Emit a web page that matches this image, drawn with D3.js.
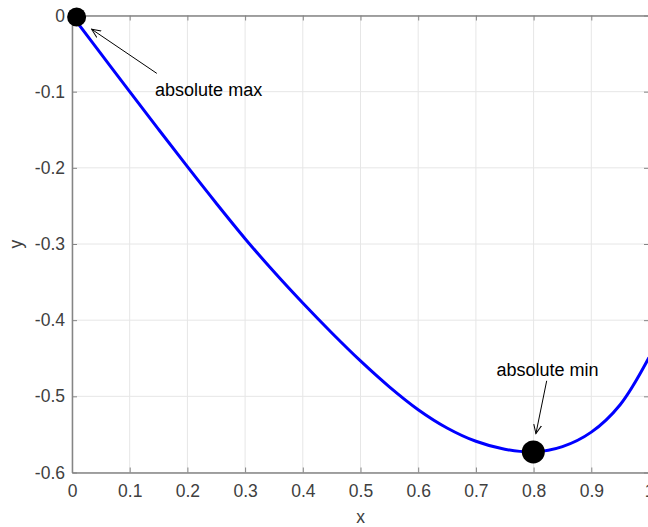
<!DOCTYPE html>
<html>
<head>
<meta charset="utf-8">
<script src="https://cdn.jsdelivr.net/npm/d3@7"></script>
<style>
  body { margin: 0; background: #fff; }
  svg { display: block; font-family: "Liberation Sans", Arial, sans-serif; }
</style>
</head>
<body>
<div id="chart"></div>
<script>
// values
var xs = [0, 0.05, 0.1, 0.15, 0.2, 0.25, 0.3, 0.35, 0.4, 0.45, 0.5, 0.55, 0.6, 0.65, 0.7, 0.75, 0.8, 0.85, 0.9, 0.95, 1.0]
var ys = [0, -0.05, -0.1, -0.1495, -0.1985, -0.2465, -0.293, -0.3365, -0.3775, -0.4165, -0.4535, -0.4875, -0.5175, -0.5415, -0.559, -0.5695, -0.573, -0.566, -0.547, -0.511, -0.449]
var xTicks = [0, 0.1, 0.2, 0.3, 0.4, 0.5, 0.6, 0.7, 0.8, 0.9, 1]
var yTicks = [0, -0.1, -0.2, -0.3, -0.4, -0.5, -0.6]
var extremaPts = [[0.008, -0.002, 9.5], [0.7995, -0.573, 11.5]]
var noteLabels = ['absolute max', 'absolute min']
var noteText = [[0.144, -0.098], [0.824, -0.465]]
var noteArrow = [[[0.147, -0.076], [0.034, -0.018]], [[0.8227, -0.4796], [0.804, -0.549]]]

var width = 648, height = 527
var margin = { top: 15.5, right: -1, bottom: 54.5, left: 72 }

var svg = d3.select('#chart').append('svg')
  .attr('width', width)
  .attr('height', height)

var x = d3.scaleLinear().domain([0, 1]).range([margin.left, width - margin.right])
var y = d3.scaleLinear().domain([-0.6, 0]).range([height - margin.bottom, margin.top])

var axisColor = '#858585'
var textColor = '#404040'

// grid
svg.append('g').selectAll('line.vg')
  .data(xTicks).enter().append('line')
  .attr('x1', d => x(d)).attr('x2', d => x(d))
  .attr('y1', y(0)).attr('y2', y(-0.6))
  .attr('stroke', '#e6e6e6').attr('stroke-width', 1)
svg.append('g').selectAll('line.hg')
  .data(yTicks).enter().append('line')
  .attr('x1', x(0)).attr('x2', x(1))
  .attr('y1', d => y(d)).attr('y2', d => y(d))
  .attr('stroke', '#e6e6e6').attr('stroke-width', 1)

// axes (box with ticks pointing in), plain hyphen for negatives like matlab
var fmt = d => d === 0 ? '0' : (d === 1 ? '1' : d.toFixed(1))
function styleAxis(g) {
  g.select('.domain').attr('stroke', axisColor).attr('stroke-width', 1.5)
  g.selectAll('.tick line').attr('stroke', axisColor).attr('stroke-width', 1)
  g.selectAll('.tick text').attr('fill', textColor).style('font-size', '17.5px')
}
svg.append('g')
  .attr('transform', 'translate(0,' + y(-0.6) + ')')
  .call(d3.axisBottom(x).tickValues(xTicks).tickFormat(fmt).tickSizeInner(-5).tickSizeOuter(0).tickPadding(12))
  .call(styleAxis)
svg.append('g')
  .attr('transform', 'translate(0,' + y(0) + ')')
  .call(d3.axisTop(x).tickValues(xTicks).tickFormat('').tickSizeInner(-5).tickSizeOuter(0))
  .call(styleAxis)
svg.append('g')
  .attr('transform', 'translate(' + x(0) + ',0)')
  .call(d3.axisLeft(y).tickValues(yTicks).tickFormat(fmt).tickSizeInner(-5).tickSizeOuter(0).tickPadding(7))
  .call(styleAxis)
svg.append('g')
  .attr('transform', 'translate(' + x(1) + ',0)')
  .call(d3.axisRight(y).tickValues(yTicks).tickFormat('').tickSizeInner(-5).tickSizeOuter(0))
  .call(styleAxis)

// axis labels
svg.append('text')
  .attr('x', x(0.5)).attr('y', height - 4)
  .attr('text-anchor', 'middle').attr('fill', textColor)
  .style('font-size', '17.5px').text('x')
svg.append('text')
  .attr('transform', 'translate(22,' + y(-0.3) + ') rotate(-90)')
  .attr('text-anchor', 'middle').attr('fill', textColor)
  .style('font-size', '17.5px').text('y')

// curve
var pts = xs.map((d, i) => [d, ys[i]])
svg.append('path')
  .datum(pts)
  .attr('fill', 'none')
  .attr('stroke', '#0000ff')
  .attr('stroke-width', 3)
  .attr('d', d3.line().x(d => x(d[0])).y(d => y(d[1])).curve(d3.curveCatmullRom))

// extrema markers
svg.append('g').selectAll('circle')
  .data(extremaPts).enter().append('circle')
  .attr('cx', d => x(d[0])).attr('cy', d => y(d[1])).attr('r', d => d[2])
  .attr('fill', '#000')

// annotations
svg.append('defs').append('marker')
  .attr('id', 'head')
  .attr('viewBox', '0 0 10 10')
  .attr('refX', 9).attr('refY', 5)
  .attr('markerWidth', 10).attr('markerHeight', 10)
  .attr('markerUnits', 'userSpaceOnUse')
  .attr('orient', 'auto')
  .append('path')
  .attr('d', 'M0,1 L9,5 L0,9')
  .attr('fill', 'none').attr('stroke', '#000').attr('stroke-width', 1)

svg.append('g').selectAll('line')
  .data(noteArrow).enter().append('line')
  .attr('x1', d => x(d[0][0])).attr('y1', d => y(d[0][1]))
  .attr('x2', d => x(d[1][0])).attr('y2', d => y(d[1][1]))
  .attr('stroke', '#000').attr('stroke-width', 1)
  .attr('marker-end', 'url(#head)')

svg.append('g').selectAll('text')
  .data(noteLabels).enter().append('text')
  .attr('x', (d, i) => x(noteText[i][0]))
  .attr('y', (d, i) => y(noteText[i][1]))
  .attr('dy', '0.35em')
  .attr('text-anchor', (d, i) => i === 0 ? 'start' : 'middle')
  .attr('fill', '#000')
  .style('font-size', '18px')
  .text(d => d)
</script>
</body>
</html>
